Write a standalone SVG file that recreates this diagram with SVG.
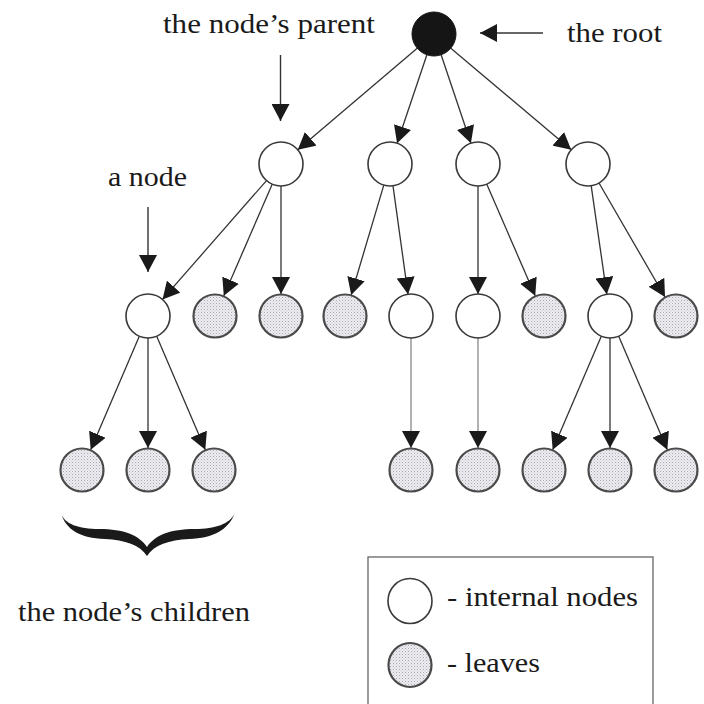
<svg xmlns="http://www.w3.org/2000/svg" width="704" height="704" viewBox="0 0 704 704">
<style>
.bg{fill:#ffffff}
.int{fill:#ffffff;stroke:#3a3a3a;stroke-width:1.6}
.leaf{fill:url(#dots);stroke:#4a4a4a;stroke-width:2.2}
.root{fill:#151515;stroke:#151515;stroke-width:1}
.edge{stroke:#333333;stroke-width:1.3;fill:none;marker-end:url(#ah)}
.edge.light{stroke:#888888}
.lbl{font-family:"Liberation Serif","Times New Roman",serif;font-size:27px;fill:#1a1a1a}
.ptr{stroke:#333333;stroke-width:1.4;fill:none;marker-end:url(#ah)}
.box{fill:none;stroke:#666666;stroke-width:1.3}
</style>
<defs>
<pattern id="dots" width="3" height="3" patternUnits="userSpaceOnUse">
<rect width="3" height="3" fill="#ececf1"/>
<rect width="1" height="1" fill="#a9a9b3"/>
<rect x="1.5" y="1.5" width="1" height="1" fill="#c4c4cc"/>
</pattern>
<marker id="ah" markerUnits="userSpaceOnUse" markerWidth="18" markerHeight="18" refX="17" refY="9" orient="auto">
<path d="M0,0 L17,9 L0,18 Z" fill="#1a1a1a"/>
</marker>
</defs>
<rect class="bg" x="0" y="0" width="704" height="704"/>

<g id="connectors">
<line class="edge" x1="417.2" y1="48.2" x2="297.8" y2="149.8"/>
<line class="edge" x1="426.9" y1="54.8" x2="397.1" y2="143.2"/>
<line class="edge" x1="441.1" y1="54.8" x2="470.9" y2="143.2"/>
<line class="edge" x1="450.8" y1="48.2" x2="571.2" y2="149.8"/>
<line class="edge" x1="266.5" y1="180.6" x2="162.5" y2="299.4"/>
<line class="edge" x1="272.2" y1="184.2" x2="223.8" y2="295.8"/>
<line class="edge" x1="281" y1="186" x2="281" y2="294"/>
<line class="edge" x1="383.8" y1="185.1" x2="351.2" y2="294.9"/>
<line class="edge" x1="393.0" y1="185.8" x2="408.0" y2="294.2"/>
<line class="edge" x1="478" y1="186" x2="478" y2="294"/>
<line class="edge" x1="486.8" y1="184.2" x2="535.2" y2="295.8"/>
<line class="edge" x1="591.2" y1="185.8" x2="606.8" y2="294.2"/>
<line class="edge" x1="599.0" y1="183.0" x2="665.0" y2="297.0"/>
<line class="edge" x1="139.3" y1="336.2" x2="90.7" y2="449.8"/>
<line class="edge" x1="148" y1="338" x2="148" y2="448"/>
<line class="edge" x1="156.7" y1="336.2" x2="205.3" y2="449.8"/>
<line class="edge light" x1="411" y1="338" x2="411" y2="448"/>
<line class="edge light" x1="478" y1="338" x2="478" y2="448"/>
<line class="edge" x1="601.3" y1="336.2" x2="552.7" y2="449.8"/>
<line class="edge" x1="610" y1="338" x2="610" y2="448"/>
<line class="edge" x1="618.7" y1="336.2" x2="667.3" y2="449.8"/>
</g>

<g id="root"><circle class="root" cx="434" cy="34" r="22"/></g>

<g id="n1a"><circle class="int" cx="281" cy="164" r="22"/></g>
<g id="n1b"><circle class="int" cx="390" cy="164" r="22"/></g>
<g id="n1c"><circle class="int" cx="478" cy="164" r="22"/></g>
<g id="n1d"><circle class="int" cx="588" cy="164" r="22"/></g>

<g id="n2a"><circle class="int" cx="148" cy="316" r="22"/></g>
<g id="l2a"><circle class="leaf" cx="215" cy="316" r="21.5"/></g>
<g id="l2b"><circle class="leaf" cx="281" cy="316" r="21.5"/></g>
<g id="l2c"><circle class="leaf" cx="345" cy="316" r="21.5"/></g>
<g id="n2b"><circle class="int" cx="411" cy="316" r="22"/></g>
<g id="n2c"><circle class="int" cx="478" cy="316" r="22"/></g>
<g id="l2d"><circle class="leaf" cx="544" cy="316" r="21.5"/></g>
<g id="n2d"><circle class="int" cx="610" cy="316" r="22"/></g>
<g id="l2e"><circle class="leaf" cx="676" cy="316" r="21.5"/></g>

<g id="l3a"><circle class="leaf" cx="82" cy="470" r="21.5"/></g>
<g id="l3b"><circle class="leaf" cx="148" cy="470" r="21.5"/></g>
<g id="l3c"><circle class="leaf" cx="214" cy="470" r="21.5"/></g>
<g id="l3d"><circle class="leaf" cx="411" cy="470" r="21.5"/></g>
<g id="l3e"><circle class="leaf" cx="478" cy="470" r="21.5"/></g>
<g id="l3f"><circle class="leaf" cx="544" cy="470" r="21.5"/></g>
<g id="l3g"><circle class="leaf" cx="610" cy="470" r="21.5"/></g>
<g id="l3h"><circle class="leaf" cx="676" cy="470" r="21.5"/></g>

<g id="annotations">
<text class="lbl" x="163" y="33" textLength="212" lengthAdjust="spacingAndGlyphs">the node’s parent</text>
<line class="ptr" x1="280.5" y1="55" x2="280.5" y2="121"/>
<text class="lbl" x="567" y="42" textLength="95" lengthAdjust="spacingAndGlyphs">the root</text>
<line class="ptr" x1="543" y1="33" x2="480" y2="33"/>
<text class="lbl" x="108" y="186" textLength="79" lengthAdjust="spacingAndGlyphs">a node</text>
<line class="ptr" x1="148" y1="207" x2="148" y2="272"/>
<path id="brace" fill="#1a1a1a" d="M61,513 C66,530 80,538 105,539 C125,540 140,545 147,556 C154,545 169,540 189,539 C214,538 228,530 235,513 C230,524 215,529 195,529 C170,529 155,535 147,547 C139,535 124,529 99,529 C79,529 64,524 61,513 Z"/>
<text class="lbl" x="18" y="621" textLength="232" lengthAdjust="spacingAndGlyphs">the node’s children</text>
</g>

<g id="legend">
<rect class="box" x="368" y="557" width="285" height="170"/>
<ellipse class="int" cx="410" cy="601" rx="22" ry="22.5"/>
<text class="lbl" x="447" y="606" textLength="191" lengthAdjust="spacingAndGlyphs">- internal nodes</text>
<ellipse class="leaf" cx="410" cy="665" rx="21.5" ry="22"/>
<text class="lbl" x="447" y="672" textLength="93" lengthAdjust="spacingAndGlyphs">- leaves</text>
</g>
</svg>
